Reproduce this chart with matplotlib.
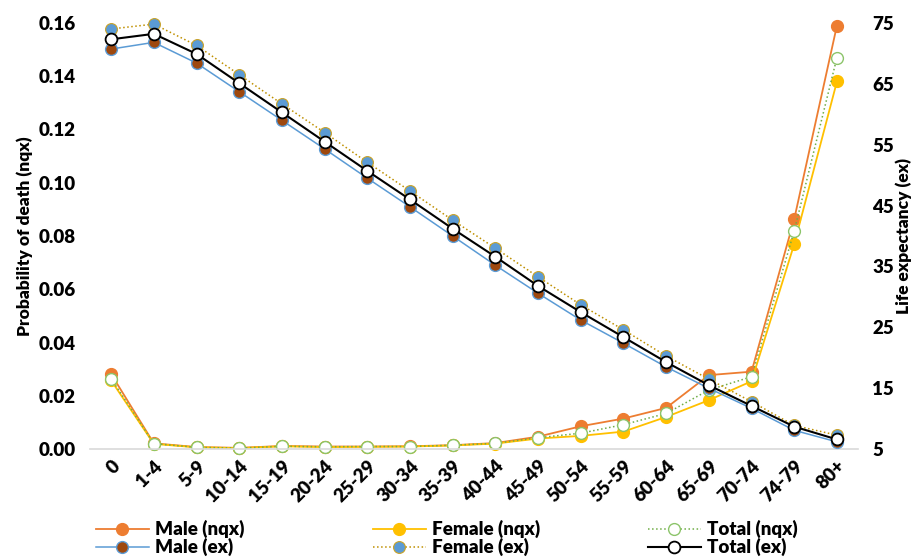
import matplotlib
matplotlib.use('Agg')
import matplotlib.pyplot as plt

plt.rcParams['font.family'] = ['Lato', 'DejaVu Sans']
plt.rcParams['font.weight'] = 'heavy'

# age groups
age_groups = ['0', '1-4', '5-9', '10-14', '15-19', '20-24', '25-29', '30-34', '35-39',
              '40-44', '45-49', '50-54', '55-59', '60-64', '65-69', '70-74', '74-79', '80+']

# probability of death (nqx)
male_nqx = [0.0282, 0.0022, 0.0008, 0.0005, 0.0012, 0.0010, 0.0010, 0.0011, 0.0015,
            0.0023, 0.0047, 0.0086, 0.0115, 0.0155, 0.0278, 0.0291, 0.0864, 0.1590]
female_nqx = [0.0258, 0.0020, 0.0007, 0.0004, 0.0011, 0.0008, 0.0009, 0.0010, 0.0014,
              0.0021, 0.0040, 0.0050, 0.0066, 0.0121, 0.0184, 0.0255, 0.0770, 0.1380]
total_nqx = [0.0265, 0.0021, 0.0007, 0.0004, 0.0011, 0.0009, 0.0010, 0.0010, 0.0015,
             0.0022, 0.0043, 0.0060, 0.0092, 0.0134, 0.0222, 0.0272, 0.0819, 0.1470]

# life expectancy (ex)
male_ex = [70.7, 71.8, 68.4, 63.7, 59.0, 54.3, 49.5, 44.8, 40.0,
           35.2, 30.6, 26.2, 22.4, 18.5, 15.0, 11.7, 8.1, 6.2]
female_ex = [74.0, 74.8, 71.3, 66.5, 61.7, 57.0, 52.1, 47.4, 42.6,
             38.0, 33.3, 28.7, 24.6, 20.3, 16.5, 12.8, 8.9, 7.3]
total_ex = [72.3, 73.2, 69.9, 65.1, 60.3, 55.5, 50.7, 46.0, 41.2,
            36.6, 31.8, 27.5, 23.4, 19.3, 15.5, 12.1, 8.7, 6.6]

x = list(range(len(age_groups)))

fig = plt.figure(figsize=(9.16, 5.58), dpi=100)
ax = fig.add_axes([0.098, 0.195, 0.839, 0.764])
ax2 = ax.twinx()

ms = 8.5
l1, = ax.plot(x, male_nqx, color='#ED7D31', lw=1.3, marker='o', ms=ms,
              markerfacecolor='#ED7D31', markeredgecolor='#ED7D31', clip_on=False, label='Male (nqx)')
l2, = ax.plot(x, female_nqx, color='#FFC000', lw=1.3, marker='o', ms=ms,
              markerfacecolor='#FFC000', markeredgecolor='#FFC000', clip_on=False, label='Female (nqx)')
l3, = ax.plot(x, total_nqx, color='#70AD47', lw=1.1, ls=':', marker='o', ms=ms,
              markerfacecolor='white', markeredgecolor='#8CC46A', markeredgewidth=1,
              clip_on=False, label='Total (nqx)')

l4, = ax2.plot(x, male_ex, color='#5B9BD5', lw=1.1, marker='o', ms=ms,
               markerfacecolor='#9E480E', markeredgecolor='#5B9BD5', markeredgewidth=1,
               clip_on=False, label='Male (ex)')
l5, = ax2.plot(x, female_ex, color='#BF9000', lw=1.1, ls=':', marker='o', ms=ms,
               markerfacecolor='#5B9BD5', markeredgecolor='#C9A227', markeredgewidth=0.8,
               clip_on=False, label='Female (ex)')
l6, = ax2.plot(x, total_ex, color='black', lw=1.5, marker='o', ms=ms,
               markerfacecolor='white', markeredgecolor='black', markeredgewidth=1.3,
               clip_on=False, label='Total (ex)')

ax.set_xlim(-0.5, len(age_groups) - 0.5)
ax.set_ylim(0, 0.16)
ax.set_yticks([0, 0.02, 0.04, 0.06, 0.08, 0.10, 0.12, 0.14, 0.16])
ax.set_yticklabels([f'{v:.2f}' for v in ax.get_yticks()])
ax2.set_ylim(5, 75)
ax2.set_yticks([5, 15, 25, 35, 45, 55, 65, 75])

ax.set_xticks(x)
ax.set_xticklabels(age_groups, rotation=45, ha='right', rotation_mode='anchor')

for a in (ax, ax2):
    for s in a.spines.values():
        s.set_visible(False)
    a.tick_params(length=0, labelsize=13.5)
ax.spines['bottom'].set_visible(True)
ax.spines['bottom'].set_color('#D9D9D9')
ax.spines['bottom'].set_linewidth(1.2)
ax.tick_params(axis='x', pad=6)
ax.tick_params(axis='y', pad=10)
ax2.tick_params(axis='y', pad=10)

ax.set_ylabel('Probability of death (nqx)', fontsize=12.5, fontweight='heavy', labelpad=4)
ax2.set_ylabel('Life expectancy (ex)', fontsize=12.5, fontweight='heavy', labelpad=1)

# one legend per column, Excel style
columns = [(l1, l4), (l2, l5), (l3, l6)]
col_x = [96, 373, 648]
for hs, cx in zip(columns, col_x):
    leg = fig.legend(handles=list(hs), labels=[h.get_label() for h in hs],
                     loc='upper left', bbox_to_anchor=(cx / 916, 1 - 520 / 558),
                     frameon=False, fontsize=13.5, handlelength=2.8,
                     handletextpad=0.35, labelspacing=0.0,
                     borderpad=0, borderaxespad=0)

fig.savefig('out.png', dpi=100)
